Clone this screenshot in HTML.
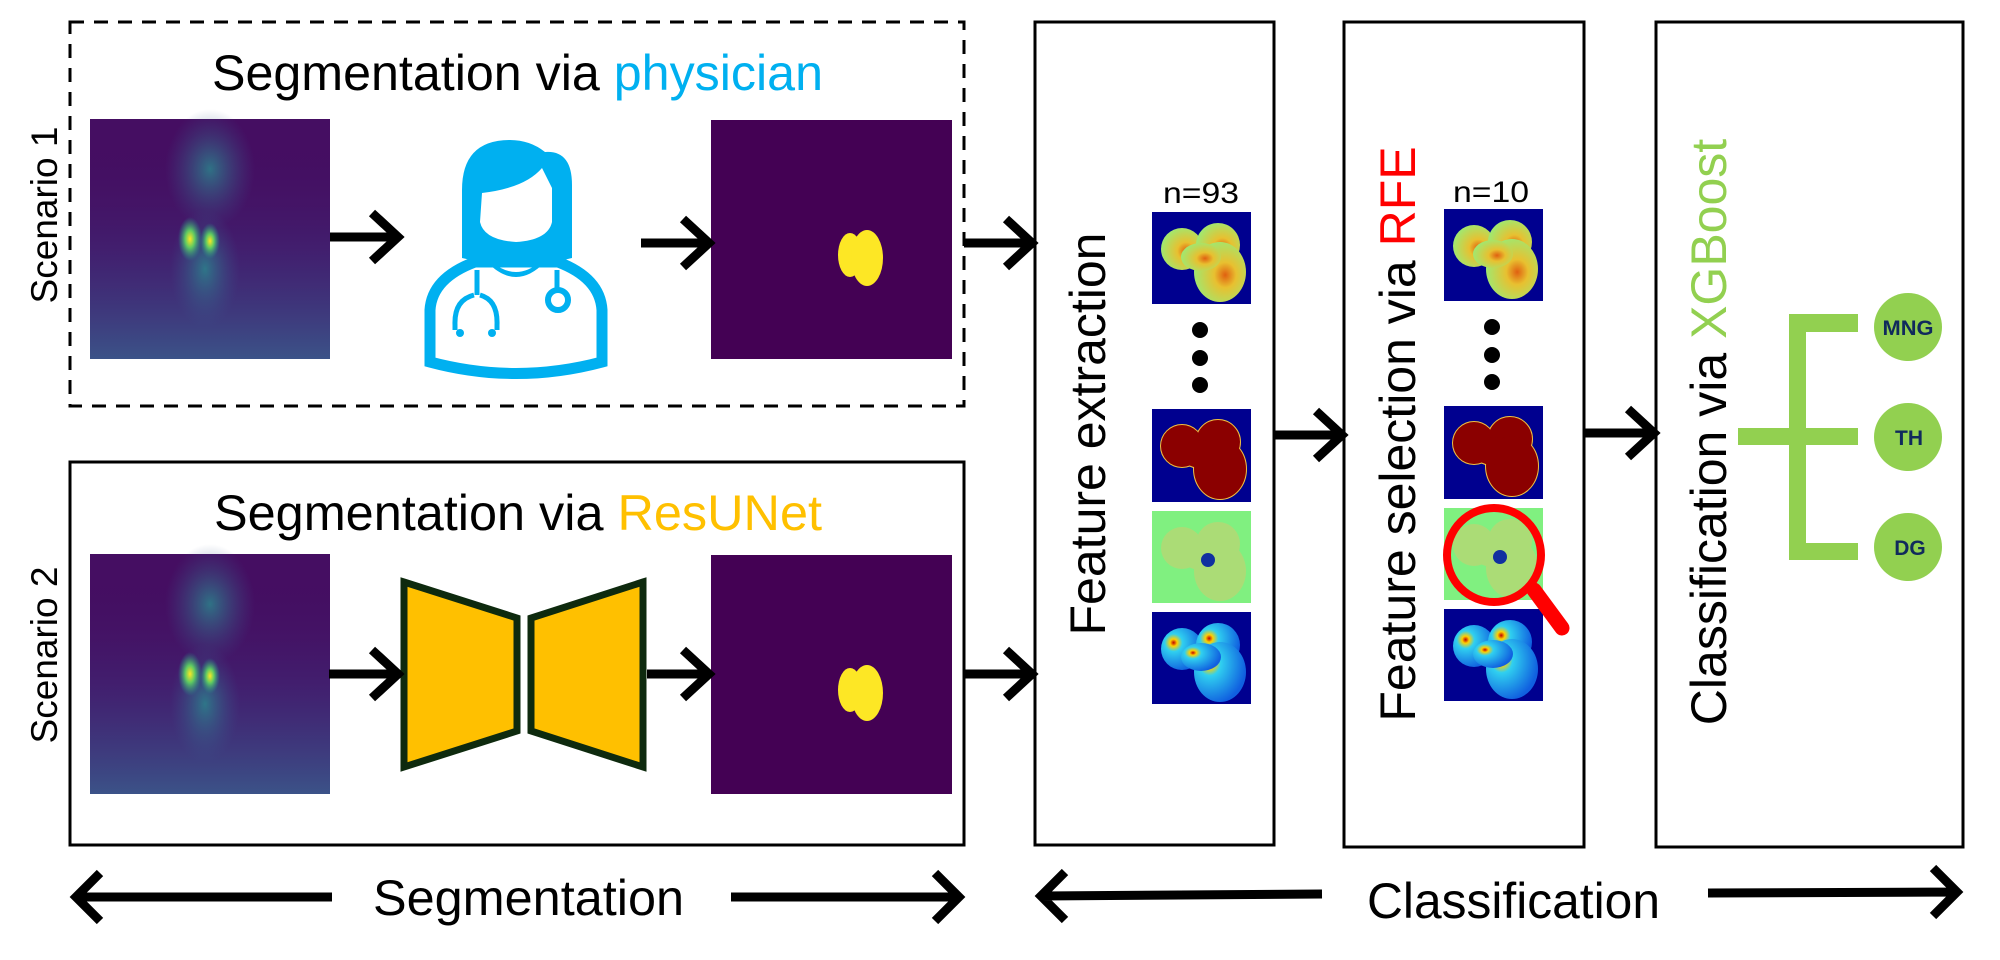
<!DOCTYPE html>
<html><head><meta charset="utf-8"><style>
html,body{margin:0;padding:0;background:#fff;}
svg{display:block;}
text{font-family:"Liberation Sans",Arial,sans-serif;}
</style></head><body>
<svg width="2000" height="960" viewBox="0 0 2000 960" xmlns="http://www.w3.org/2000/svg">
<defs>
  <linearGradient id="body" x1="0" y1="0" x2="0" y2="1">
    <stop offset="0" stop-color="#440154" stop-opacity="0"/>
    <stop offset="0.55" stop-color="#3b3f86" stop-opacity="0.35"/>
    <stop offset="1" stop-color="#3a5a8c" stop-opacity="0.9"/>
  </linearGradient>
  <radialGradient id="hot" cx="0.5" cy="0.5" r="0.5">
    <stop offset="0" stop-color="#fde725"/>
    <stop offset="0.4" stop-color="#5ec962"/>
    <stop offset="1" stop-color="#21918c" stop-opacity="0"/>
  </radialGradient>
  <radialGradient id="glow" cx="0.5" cy="0.5" r="0.5">
    <stop offset="0" stop-color="#2a8a8e" stop-opacity="0.8"/>
    <stop offset="1" stop-color="#3b528b" stop-opacity="0"/>
  </radialGradient>
  <radialGradient id="warm" cx="0.6" cy="0.55" r="0.6">
    <stop offset="0" stop-color="#e06010"/>
    <stop offset="0.35" stop-color="#e8c030"/>
    <stop offset="1" stop-color="#a0e870"/>
  </radialGradient>
  <radialGradient id="blueb" cx="0.3" cy="0.35" r="0.7">
    <stop offset="0" stop-color="#c00000"/>
    <stop offset="0.12" stop-color="#ffd000"/>
    <stop offset="0.3" stop-color="#30d0f0"/>
    <stop offset="1" stop-color="#1060e0"/>
  </radialGradient>
  <g id="scan">
    <rect width="240" height="240" fill="#450e62"/>
    <rect width="240" height="240" fill="url(#body)"/>
    <ellipse cx="120" cy="50" rx="45" ry="60" fill="url(#glow)"/>
    <ellipse cx="115" cy="150" rx="35" ry="60" fill="url(#glow)"/>
    <ellipse cx="100" cy="120" rx="12" ry="22" fill="url(#hot)"/>
    <ellipse cx="120" cy="122" rx="10" ry="18" fill="url(#hot)"/>
  </g>
  <g id="mask">
    <rect width="241" height="239" fill="#440154"/>
    <ellipse cx="139" cy="135" rx="12" ry="22" fill="#fde725"/>
    <ellipse cx="156" cy="138" rx="16" ry="28" fill="#fde725"/>
  </g>
  <g id="blob">
    <circle cx="26" cy="32" r="21"/>
    <circle cx="62" cy="28" r="22"/>
    <ellipse cx="64" cy="55" rx="26" ry="30"/>
    <ellipse cx="45" cy="40" rx="20" ry="14"/>
  </g>
</defs>

<!-- Scenario 1 box -->
<rect x="70" y="22" width="894" height="384" fill="none" stroke="#000" stroke-width="3" stroke-dasharray="14,10"/>
<text x="212" y="90" font-size="50" textLength="611" lengthAdjust="spacingAndGlyphs">Segmentation via <tspan fill="#00b0f0">physician</tspan></text>
<text transform="translate(57,215) rotate(-90)" font-size="37" text-anchor="middle">Scenario 1</text>
<use href="#scan" x="90" y="119"/>
<use href="#mask" x="711" y="120"/>

<!-- doctor -->
<g fill="#00b0f0">
  <path d="M462,258 L462,190 Q462,140 510,140 Q530,140 545,152 Q572,150 572,185 L572,258 L555,262 L480,262Z"/>
  <path d="M482,193 Q525,188 542,168 L552,188 L552,222 Q548,240 516,242 Q484,240 480,222Z" fill="#fff"/>
  <path d="M430,362 L430,310 Q432,278 475,262 L558,262 Q600,278 602,310 L602,362 Q516,385 430,362Z" fill="#fff" stroke="#00b0f0" stroke-width="11"/>
  <path d="M492,262 Q516,282 540,262 L545,262 Q516,292 487,262Z"/>
  <path d="M477,270 L477,295 M474,295 Q454,300 455,325 L455,330 M480,295 Q498,300 497,325 L497,330 M557,270 L557,296" stroke="#00b0f0" stroke-width="5" fill="none"/>
  <circle cx="460" cy="333" r="4"/><circle cx="492" cy="333" r="4"/>
  <circle cx="558" cy="300" r="10" fill="#fff" stroke="#00b0f0" stroke-width="6"/>
</g>

<!-- arrows scenario 1 -->
<g stroke="#000" stroke-width="9" fill="none" stroke-linecap="butt">
  <path d="M330,237 L398,237 M372,213 L398,237 L372,261"/>
  <path d="M641,243 L709,243 M683,219 L709,243 L683,267"/>
  <path d="M964,243 L1032,243 M1006,219 L1032,243 L1006,267"/>
</g>

<!-- Scenario 2 box -->
<rect x="70" y="462" width="894" height="383" fill="none" stroke="#000" stroke-width="3"/>
<text x="214" y="530" font-size="50" textLength="608" lengthAdjust="spacingAndGlyphs">Segmentation via <tspan fill="#ffc000">ResUNet</tspan></text>
<text transform="translate(57,655) rotate(-90)" font-size="37" text-anchor="middle">Scenario 2</text>
<use href="#scan" x="90" y="554"/>
<use href="#mask" x="711" y="555"/>
<g fill="#ffc000" stroke="#0e2a0e" stroke-width="7" stroke-linejoin="miter">
  <path d="M404,582 L517,618 L517,731 L404,767Z"/>
  <path d="M643,582 L531,618 L531,731 L643,767Z"/>
</g>
<g stroke="#000" stroke-width="9" fill="none">
  <path d="M329,674 L398,674 M372,650 L398,674 L372,698"/>
  <path d="M647,674 L709,674 M683,650 L709,674 L683,698"/>
  <path d="M964,674 L1032,674 M1006,650 L1032,674 L1006,698"/>
</g>

<!-- Feature extraction box -->
<rect x="1035" y="22" width="239" height="823" fill="none" stroke="#000" stroke-width="3"/>
<text transform="translate(1105,434) rotate(-90)" font-size="50" text-anchor="middle">Feature extraction</text>
<text x="1163" y="203" font-size="30" textLength="76" lengthAdjust="spacingAndGlyphs">n=93</text>

<!-- Feature selection box -->
<rect x="1344" y="22" width="240" height="825" fill="none" stroke="#000" stroke-width="3"/>
<text transform="translate(1415,434) rotate(-90)" font-size="50" text-anchor="middle">Feature selection via <tspan fill="#ff0000">RFE</tspan></text>
<text x="1453" y="202" font-size="30" textLength="76" lengthAdjust="spacingAndGlyphs">n=10</text>

<!-- feature images -->
<g id="fimgs">
  <rect x="1152" y="212" width="99" height="92" fill="#00008f"/>
  <use href="#blob" transform="translate(1156,217)" fill="url(#warm)"/>
  <circle cx="1200" cy="330" r="8"/><circle cx="1200" cy="358" r="8"/><circle cx="1200" cy="385" r="8"/>
  <rect x="1152" y="409" width="99" height="93" fill="#00008f"/>
  <use href="#blob" transform="translate(1156,414)" fill="#8b0000" stroke="#f0c040" stroke-width="2"/>
  <use href="#blob" transform="translate(1156,414)" fill="#8b0000"/>
  <rect x="1152" y="511" width="99" height="92" fill="#80f080"/>
  <use href="#blob" transform="translate(1156,516)" fill="#c8d070" opacity="0.6"/>
  <circle cx="1208" cy="560" r="7" fill="#1030a0"/>
  <rect x="1152" y="612" width="99" height="92" fill="#00008f"/>
  <use href="#blob" transform="translate(1156,617)" fill="url(#blueb)"/>
</g>
<use href="#fimgs" x="292" y="-3"/>
<!-- magnifier -->
<circle cx="1494" cy="555" r="47" fill="none" stroke="#ff0000" stroke-width="8"/>
<path d="M1534,590 L1562,628" stroke="#ff0000" stroke-width="15" stroke-linecap="round"/>

<g stroke="#000" stroke-width="9" fill="none">
  <path d="M1274,435 L1342,435 M1316,411 L1342,435 L1316,459"/>
  <path d="M1584,433 L1654,433 M1628,409 L1654,433 L1628,457"/>
</g>

<!-- Classification box -->
<rect x="1656" y="22" width="307" height="825" fill="none" stroke="#000" stroke-width="3"/>
<text transform="translate(1726,432) rotate(-90)" font-size="50" text-anchor="middle">Classification via <tspan fill="#92d050">XGBoost</tspan></text>
<g fill="#92d050">
  <rect x="1789" y="314" width="17" height="246"/>
  <rect x="1789" y="314" width="69" height="18"/>
  <rect x="1738" y="428" width="120" height="17"/>
  <rect x="1789" y="543" width="69" height="17"/>
  <circle cx="1908" cy="327" r="34"/>
  <circle cx="1908" cy="437" r="34"/>
  <circle cx="1908" cy="547" r="34"/>
</g>
<g fill="#102a5c" font-weight="bold" font-size="21" text-anchor="middle">
  <text x="1908" y="335" textLength="51" lengthAdjust="spacingAndGlyphs">MNG</text>
  <text x="1909" y="445">TH</text>
  <text x="1910" y="555">DG</text>
</g>

<!-- bottom arrows -->
<g stroke="#000" stroke-width="9" fill="none">
  <path d="M332,897 L76,897 M100,873 L76,897 L100,921"/>
  <path d="M731,897 L959,897 M935,873 L959,897 L935,921"/>
  <path d="M1322,894 L1041,896 M1065,872 L1041,896 L1065,920"/>
  <path d="M1708,893 L1957,892 M1933,868 L1957,892 L1933,916"/>
</g>
<text x="373" y="915" font-size="50" textLength="311" lengthAdjust="spacingAndGlyphs">Segmentation</text>
<text x="1367" y="918" font-size="50" textLength="293" lengthAdjust="spacingAndGlyphs">Classification</text>
</svg>
</body></html>
